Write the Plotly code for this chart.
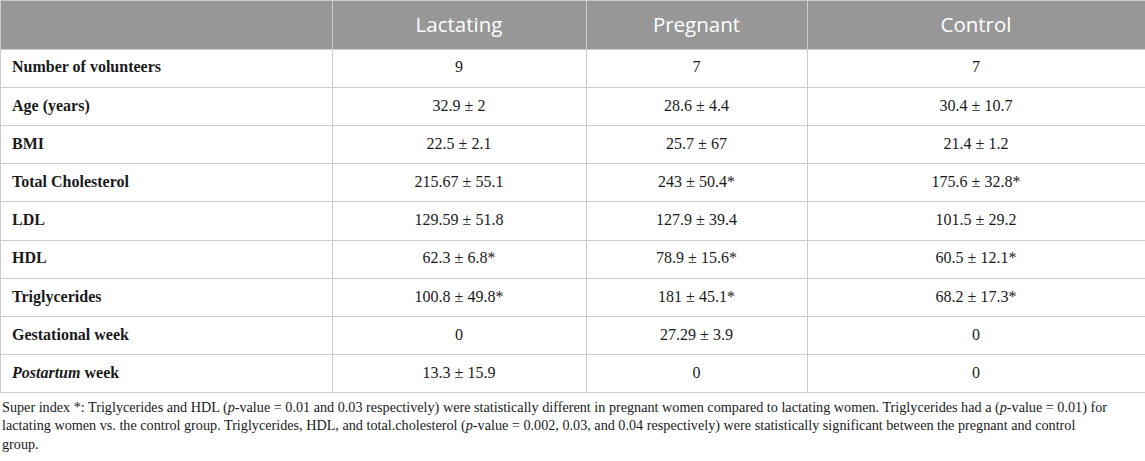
import plotly.graph_objects as go

# table content
groups = ["Lactating", "Pregnant", "Control"]
variables = [
    "<b>Number of volunteers</b>",
    "<b>Age (years)</b>",
    "<b>BMI</b>",
    "<b>Total Cholesterol</b>",
    "<b>LDL</b>",
    "<b>HDL</b>",
    "<b>Triglycerides</b>",
    "<b>Gestational week</b>",
    "<b><i>Postartum</i> week</b>",
]
lactating = ["9", "32.9 ± 2", "22.5 ± 2.1", "215.67 ± 55.1", "129.59 ± 51.8",
             "62.3 ± 6.8*", "100.8 ± 49.8*", "0", "13.3 ± 15.9"]
pregnant = ["7", "28.6 ± 4.4", "25.7 ± 67", "243 ± 50.4*", "127.9 ± 39.4",
            "78.9 ± 15.6*", "181 ± 45.1*", "27.29 ± 3.9", "0"]
control = ["7", "30.4 ± 10.7", "21.4 ± 1.2", "175.6 ± 32.8*", "101.5 ± 29.2",
           "60.5 ± 12.1*", "68.2 ± 17.3*", "0", "0"]

footnote = (
    "Super index *: Triglycerides and HDL (<i>p</i>-value = 0.01 and 0.03 respectively) "
    "were statistically different in pregnant women compared to lactating women. "
    "Triglycerides had a (<i>p</i>-value = 0.01) for<br>"
    "lactating women vs. the control group. Triglycerides, HDL, and total.cholesterol "
    "(<i>p</i>-value = 0.002, 0.03, and 0.04 respectively) were statistically significant "
    "between the pregnant and control<br>group."
)

W, H = 1145, 461
grid = "#cccccc"
serif = "Liberation Serif"


def pushed(label, size):
    # plotly tables top-align their text; a small blank first line nudges it down
    return f"\u00a0<br><span style='font-size:{size}px'>{label}</span>"


header_vals = [""] + [pushed(g, 20.5) for g in groups]
first_col = ["\u00a0" + v for v in variables]

fig = go.Figure(go.Table(
    domain=dict(x=[0, 1], y=[1 - 394 / H, 1]),
    columnwidth=[332, 254, 221, 338],
    header=dict(
        values=header_vals,
        fill_color="#979797",
        line=dict(color=grid, width=1),
        align="center",
        height=49,
        font=dict(family="Open Sans", size=10.3, color="white"),
    ),
    cells=dict(
        values=[[pushed(v, 16) for v in col]
                for col in [first_col, lactating, pregnant, control]],
        fill_color="white",
        line=dict(color=grid, width=1),
        align=["left", "center", "center", "center"],
        height=38.2,
        font=dict(family=serif, size=7.2, color="#1a1a1a"),
    ),
))

fig.add_annotation(
    text=footnote,
    xref="paper", yref="paper",
    x=0, y=1 - 397 / H,
    xanchor="left", yanchor="top",
    align="left",
    showarrow=False,
    font=dict(family=serif, size=14.2, color="#1a1a1a"),
)

fig.update_layout(
    width=W, height=H,
    margin=dict(l=0, r=0, t=0, b=0),
    paper_bgcolor="white",
)

fig.write_html("out.html", config={"displayModeBar": False},
               post_script="document.body.style.margin = '0';")
